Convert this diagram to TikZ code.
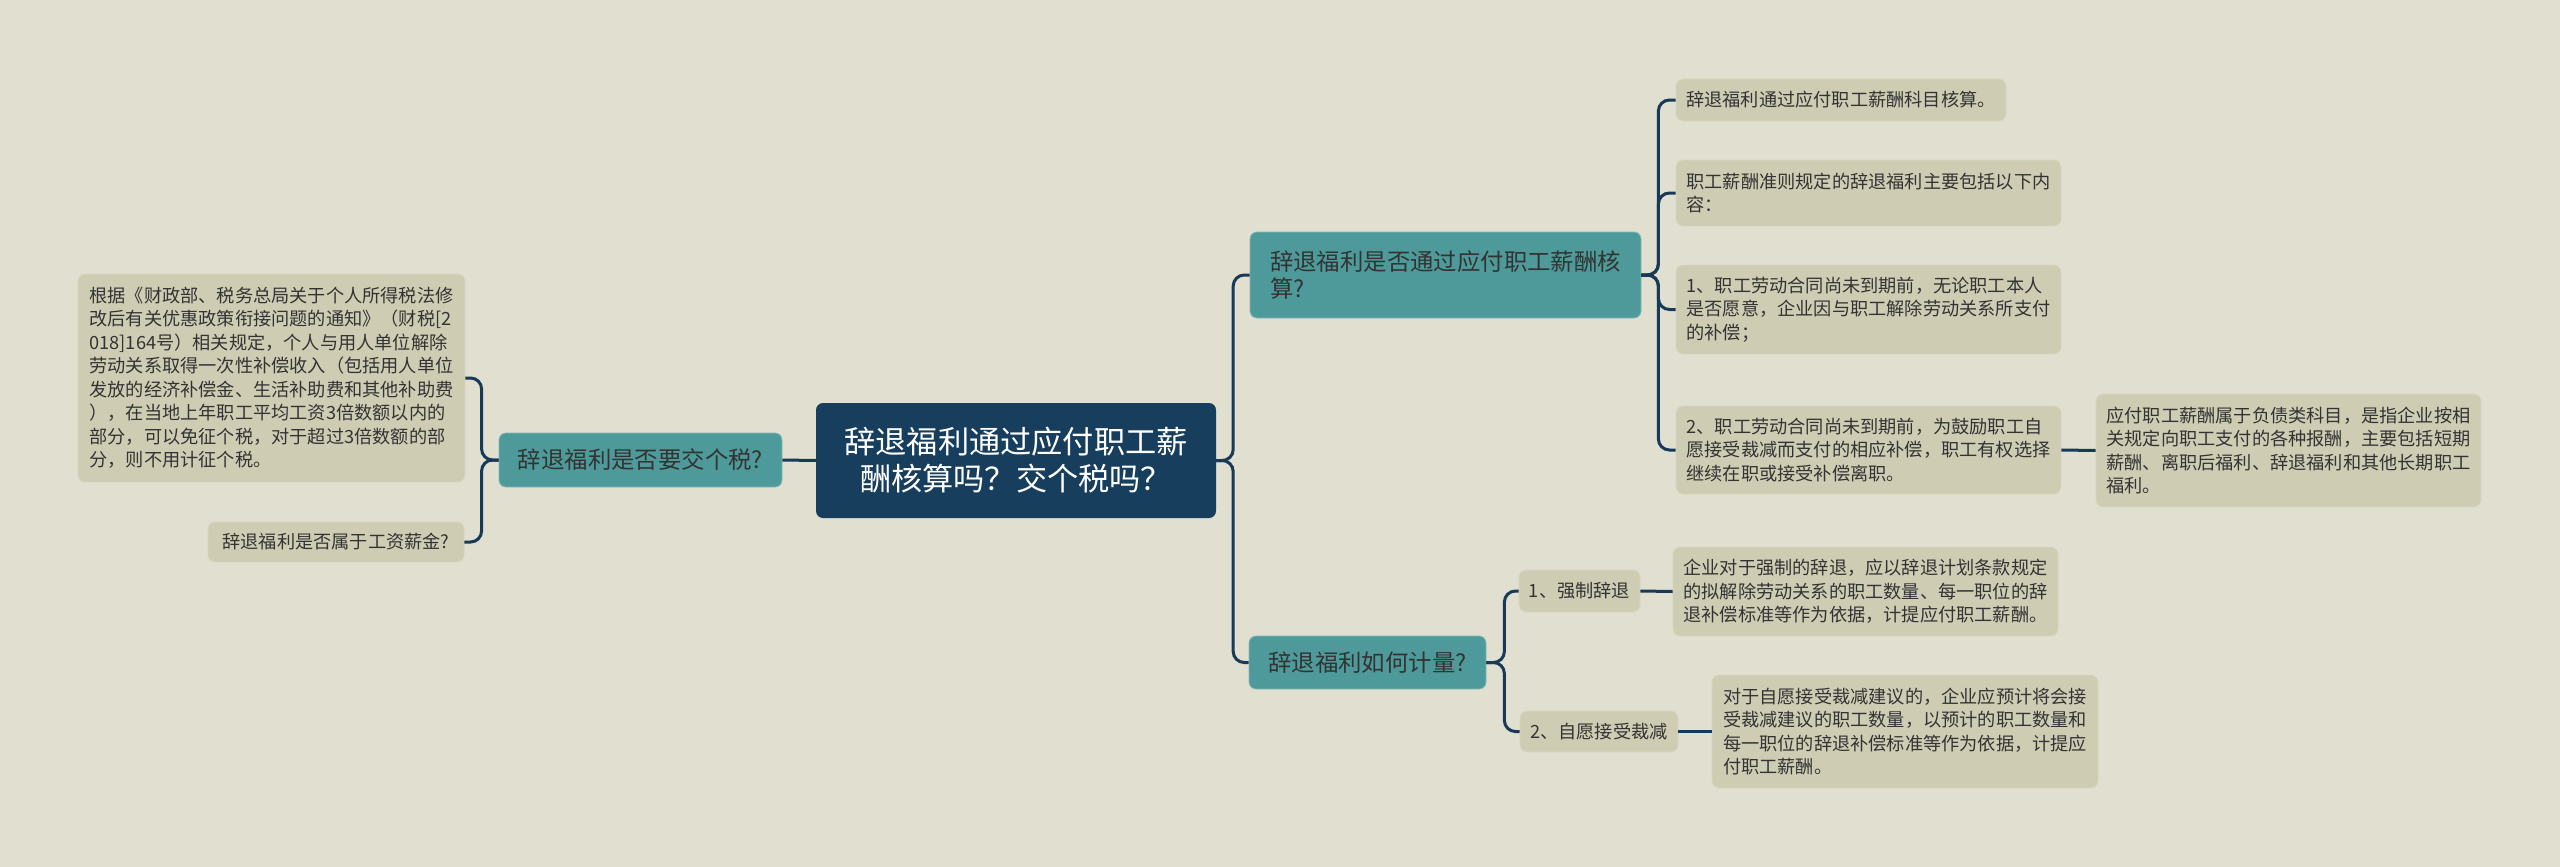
\documentclass[tikz,border=0pt]{standalone}
\usepackage{fontspec}
\setmainfont{Noto Sans CJK SC}
\usepackage{xcolor}
\usetikzlibrary{positioning}
\definecolor{bgc}{HTML}{E0DFD0}
\definecolor{leafc}{HTML}{CFCCB4}
\definecolor{tealc}{HTML}{4E9A9A}
\definecolor{rootc}{HTML}{173E5C}
\definecolor{linec}{HTML}{183A58}
\definecolor{txtc}{HTML}{333333}

\begin{document}
\begin{tikzpicture}[x=1pt,y=-1pt,
  every node/.style={text=txtc},
  leaf/.style={fill=leafc,draw=leafc!80!white,line width=0.8pt,rounded corners=7pt,align=left,
    inner xsep=10pt,inner ysep=4pt,font=\fontsize{18.2}{23.5}\selectfont},
  branch/.style={fill=tealc,draw=tealc!70!white,line width=0.8pt,rounded corners=7pt,align=left,
    inner xsep=13pt,inner ysep=4pt,font=\fontsize{23.4}{27}\selectfont},
  rootbox/.style={fill=rootc,rounded corners=7pt,align=center,text=white,
    minimum width=400pt,minimum height=115pt,font=\fontsize{31.2}{37}\selectfont},
  link/.style={draw=linec,line width=3pt,rounded corners=11pt}]
  % canvas
  \fill[bgc] (0,0) rectangle (2560,867);
  \useasboundingbox (0,0) rectangle (2560,867);
  % centre
  \node[rootbox] (root) at (1016,460.5) {辞退福利通过应付职工薪\\酬核算吗？交个税吗？};
  % left side
  \node[branch,minimum width=283pt,minimum height=54pt] (tax) at (640.5,460) {辞退福利是否要交个税?};
  \node[leaf,minimum width=387pt,minimum height=208pt] (basis) at (271.5,378)
    {根据《财政部、税务总局关于个人所得税法修\\改后有关优惠政策衔接问题的通知》（财税[2\\018]164号）相关规定，个人与用人单位解除\\劳动关系取得一次性补偿收入（包括用人单位\\发放的经济补偿金、生活补助费和其他补助费\\），在当地上年职工平均工资3倍数额以内的\\部分，可以免征个税，对于超过3倍数额的部\\分，则不用计征个税。};
  \node[leaf,minimum width=256pt,minimum height=40pt] (wage) at (336,542) {辞退福利是否属于工资薪金?};
  % right side, upper branch
  \node[branch,minimum width=391pt,minimum height=86pt] (acct) at (1445.5,275) {辞退福利是否通过应付职工薪酬核\\算?};
  \node[leaf,minimum width=330pt,minimum height=42pt] (ruleA) at (1841,100) {辞退福利通过应付职工薪酬科目核算。};
  \node[leaf,minimum width=385pt,minimum height=66pt] (ruleB) at (1868.5,193) {职工薪酬准则规定的辞退福利主要包括以下内\\容：};
  \node[leaf,minimum width=385pt,minimum height=89pt] (ruleC) at (1868.5,309.5)
    {1、职工劳动合同尚未到期前，无论职工本人\\是否愿意，企业因与职工解除劳动关系所支付\\的补偿；};
  \node[leaf,minimum width=385pt,minimum height=88pt] (ruleD) at (1868.5,450)
    {2、职工劳动合同尚未到期前，为鼓励职工自\\愿接受裁减而支付的相应补偿，职工有权选择\\继续在职或接受补偿离职。};
  \node[leaf,minimum width=385pt,minimum height=113pt] (payable) at (2288.5,450.5)
    {应付职工薪酬属于负债类科目，是指企业按相\\关规定向职工支付的各种报酬，主要包括短期\\薪酬、离职后福利、辞退福利和其他长期职工\\福利。};
  % right side, lower branch
  \node[branch,minimum width=237pt,minimum height=53pt] (measure) at (1367.5,662.5) {辞退福利如何计量?};
  \node[leaf,minimum width=117pt,minimum height=42pt] (forced) at (1579.5,591) {1、强制辞退};
  \node[leaf,minimum width=385pt,minimum height=89pt] (forcedTxt) at (1865.5,591.5)
    {企业对于强制的辞退，应以辞退计划条款规定\\的拟解除劳动关系的职工数量、每一职位的辞\\退补偿标准等作为依据，计提应付职工薪酬。};
  \node[leaf,minimum width=158pt,minimum height=41pt] (volunt) at (1599,731.5) {2、自愿接受裁减};
  \node[leaf,minimum width=386pt,minimum height=113pt] (voluntTxt) at (1905,731.5)
    {对于自愿接受裁减建议的，企业应预计将会接\\受裁减建议的职工数量，以预计的职工数量和\\每一职位的辞退补偿标准等作为依据，计提应\\付职工薪酬。};
  % links
  \draw[link] (root.west) -- (tax.east);
  \foreach \n in {basis,wage} \draw[link] (tax.west) -- ++(-17,0) |- (\n.east);
  \foreach \n in {acct,measure} \draw[link] (root.east) -- ++(17,0) |- (\n.west);
  \foreach \n in {ruleA,ruleB,ruleC,ruleD} \draw[link] (acct.east) -- ++(17,0) |- (\n.west);
  \draw[link] (ruleD.east) -- (payable.west);
  \foreach \n in {forced,volunt} \draw[link] (measure.east) -- ++(18,0) |- (\n.west);
  \draw[link] (forced.east) -- (forcedTxt.west);
  \draw[link] (volunt.east) -- (voluntTxt.west);
\end{tikzpicture}
\end{document}
